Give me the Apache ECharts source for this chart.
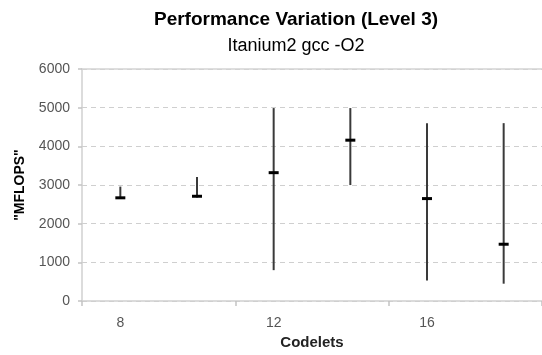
<!DOCTYPE html>
<html>
<head>
<meta charset="utf-8">
<script src="https://cdn.jsdelivr.net/npm/echarts@6/dist/echarts.min.js"></script>
<style>html,body{margin:0;padding:0;background:#fff;}#c{width:542px;height:355px;}</style>
</head>
<body>
<div id="c"></div>
<script>
const categories = ['8', '10', '12', '14', '16', '18'];
const minValues = [2640, 2680, 800, 3000, 530, 450];
const maxValues = [2960, 3210, 4990, 4990, 4600, 4600];
const midValues = [2670, 2710, 3320, 4160, 2650, 1470];
const yTicks = [0, 1000, 2000, 3000, 4000, 5000, 6000];

const data = categories.map((c, i) => [i, minValues[i], maxValues[i], midValues[i]]);
const FONT = '"Liberation Sans", Arial, sans-serif';

const chart = echarts.init(document.getElementById('c'));
chart.setOption({
  animation: false,
  backgroundColor: '#fff',
  title: {
    text: 'Performance Variation (Level 3)',
    subtext: 'Itanium2 gcc -O2',
    left: 291, top: 5, textAlign: 'center', itemGap: 8,
    textStyle: { fontFamily: FONT, fontSize: 19, fontWeight: 'bold', color: '#000' },
    subtextStyle: { fontFamily: FONT, fontSize: 18, color: '#000' }
  },
  grid: { left: 82, top: 69, width: 462, height: 239 },
  xAxis: [{
    type: 'category',
    data: categories,
    name: 'Codelets',
    nameLocation: 'middle',
    nameGap: 33,
    nameTextStyle: { fontFamily: FONT, fontSize: 15, fontWeight: 'bold', color: '#222' },
    axisLine: { lineStyle: { color: '#d0d0d0', width: 1.5 } },
    axisTick: { show: true, interval: 1, length: 5, lineStyle: { color: '#c4c4c4', width: 1.5 } },
    axisLabel: { interval: 1, margin: 15, fontFamily: FONT, fontSize: 14, color: '#555' },
    splitLine: { show: false }
  }, {
    type: 'category',
    data: categories,
    position: 'top',
    axisLine: { show: true, lineStyle: { color: '#d4d4d4', width: 1.5 } },
    axisTick: { show: false },
    axisLabel: { show: false }
  }],
  yAxis: {
    type: 'value',
    min: 0, max: 6000, interval: 1000,
    name: '"MFLOPS"',
    nameLocation: 'middle',
    nameGap: 55,
    nameTextStyle: { fontFamily: FONT, fontSize: 14, fontWeight: 'bold', color: '#000' },
    axisLine: { show: true, lineStyle: { color: '#d0d0d0', width: 1.5 } },
    axisTick: { show: true, length: 4, lineStyle: { color: '#c4c4c4', width: 1.5 } },
    axisLabel: {
      margin: 12, fontFamily: FONT, fontSize: 14, color: '#555',
      formatter: v => yTicks.includes(v) ? String(v) : ''
    },
    splitLine: {
      show: true,
      lineStyle: { color: '#cfcfcf', type: [5, 4], width: 1.2 }
    }
  },
  series: [{
    type: 'custom',
    data: data,
    encode: { x: 0, y: [1, 2, 3] },
    renderItem: function (params, api) {
      const i = api.value(0);
      const lo = api.coord([i, api.value(1)]);
      const hi = api.coord([i, api.value(2)]);
      const mid = api.coord([i, api.value(3)]);
      return {
        type: 'group',
        children: [{
          type: 'line',
          shape: { x1: lo[0], y1: lo[1], x2: hi[0], y2: hi[1] },
          style: { stroke: '#3a3a3a', lineWidth: 2 }
        }, {
          type: 'line',
          shape: { x1: mid[0] - 5, y1: mid[1], x2: mid[0] + 5, y2: mid[1] },
          style: { stroke: '#000', lineWidth: 3 }
        }]
      };
    }
  }]
});
</script>
</body>
</html>
